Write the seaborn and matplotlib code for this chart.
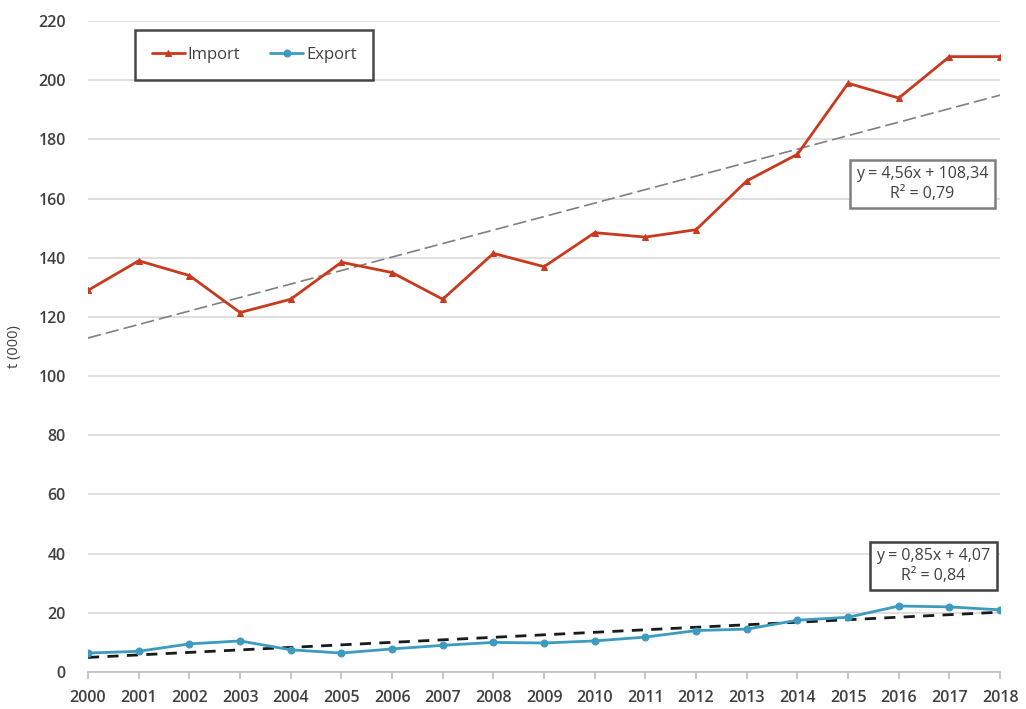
import pandas as pd
import numpy as np
import matplotlib
matplotlib.use('Agg')
import matplotlib.pyplot as plt
import seaborn as sns

years = list(range(2000, 2019))
import_t = [129, 139, 134, 121.5, 126, 138.5, 135, 126, 141.5, 137, 148.5,
            147, 149.5, 166, 175, 199, 194, 208, 208]
export_t = [6.4, 7, 9.5, 10.5, 7.5, 6.4, 7.8, 9, 10, 9.8, 10.5,
            11.8, 14, 14.5, 17.5, 18.5, 22.3, 22, 21]

# trend coefficients as printed on the chart (x = 1..19)
trend_import = (4.56, 108.34)
trend_export = (0.85, 4.07)
eq_import = "y = 4,56x + 108,34\nR² = 0,79"
eq_export = "y = 0,85x + 4,07\nR² = 0,84"

RED = "#C8391E"
BLUE = "#3E9BC0"
GRAY = "#404040"

sns.set_theme(style="white")
plt.rcParams['font.family'] = ['Open Sans', 'DejaVu Sans']

df = pd.DataFrame({'year': years, 'Import': import_t, 'Export': export_t})
idx = np.arange(1, len(years) + 1)
df['trend_imp'] = trend_import[0] * idx + trend_import[1]
df['trend_exp'] = trend_export[0] * idx + trend_export[1]

fig = plt.figure(figsize=(10.26, 7.09), dpi=100)
ax = fig.add_axes([0.0858, 0.0522, 0.889, 0.918])

ax.set_ylim(0, 220)
ax.set_xlim(2000, 2018)
ax.set_yticks(range(0, 221, 20))
ax.yaxis.grid(True, color='#D9D9D9', linewidth=1.2)
ax.set_axisbelow(True)

sns.lineplot(data=df, x='year', y='trend_imp', ax=ax, color='#808080',
             linewidth=1.2, linestyle=(0, (8, 3)), legend=False)
sns.lineplot(data=df, x='year', y='trend_exp', ax=ax, color='#1A1A1A',
             linewidth=2.0, linestyle=(0, (4, 3)), legend=False)

sns.lineplot(data=df, x='year', y='Import', ax=ax, color=RED, linewidth=2.0,
             marker='^', markersize=5, markeredgecolor=RED, label='Import')
sns.lineplot(data=df, x='year', y='Export', ax=ax, color=BLUE, linewidth=2.0,
             marker='o', markersize=5, markeredgecolor=BLUE, label='Export')

for s in ['top', 'right', 'left']:
    ax.spines[s].set_visible(False)
ax.spines['bottom'].set_color('#BFBFBF')
ax.spines['bottom'].set_linewidth(1.2)

ax.set_xticks(years)
ax.set_xticklabels([str(y) for y in years], fontsize=11.5, color=GRAY,
                   fontweight='semibold')
ax.tick_params(axis='x', length=5, color='#BFBFBF', pad=8, bottom=True)
ax.tick_params(axis='y', length=0, pad=16, labelsize=11.5, labelcolor=GRAY)
for t in ax.get_yticklabels():
    t.set_fontweight('semibold')

ax.set_xlabel('')
ax.set_ylabel('t (000)', fontsize=10.5, color=GRAY, labelpad=12)

leg = ax.legend(loc='upper left', bbox_to_anchor=(0.0515, 0.986), ncol=2,
                frameon=True, fancybox=False, fontsize=12, handlelength=2.0,
                handletextpad=0.15, columnspacing=1.8, borderpad=1.0,
                borderaxespad=0)
leg.get_frame().set_edgecolor('#1A1A1A')
leg.get_frame().set_linewidth(1.8)
for t in leg.get_texts():
    t.set_color(GRAY)

ax.text(2016.47, 165, eq_import, ha='center', va='center', fontsize=11.5,
        color=GRAY, linespacing=1.3,
        bbox=dict(boxstyle='square,pad=0.4', fc='white', ec='#7F7F7F', lw=1.8))
ax.text(2016.68, 35.8, eq_export, ha='center', va='center', fontsize=11.5,
        color=GRAY, linespacing=1.3,
        bbox=dict(boxstyle='square,pad=0.4', fc='white', ec='#404040', lw=1.8))

fig.savefig('out.png', dpi=100)
